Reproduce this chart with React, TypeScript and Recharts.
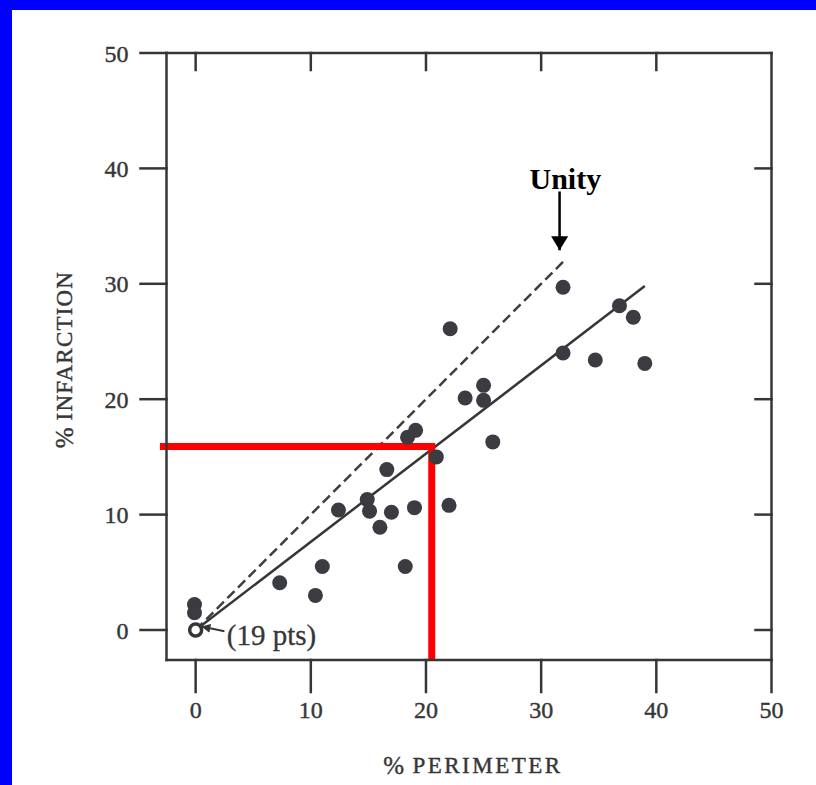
import React from "react";
import {
  ScatterChart,
  Scatter,
  XAxis,
  YAxis,
  ReferenceLine,
  ReferenceDot,
  Label,
} from "recharts";

// axis ticks
const X_TICKS = [0, 10, 20, 30, 40, 50];
const Y_TICKS = [0, 10, 20, 30, 40, 50];
const INNER_TICKS = [0, 10, 20, 30, 40];
const X_DOMAIN: [number, number] = [-2.53, 50];
const Y_DOMAIN: [number, number] = [-2.6, 50];

// one entry per patient: % perimeter vs % infarction
const perimeter = [
  -0.1, -0.1, 7.3, 10.4, 11.0, 12.4, 14.9, 15.1, 16.0, 16.6, 17.0, 18.2, 18.4,
  19.1, 19.0, 20.9, 22.0, 25.8, 31.9, 22.1, 36.8, 38.0, 31.9, 34.7, 39.0, 23.4,
  25.0, 25.0,
];
const infarction = [
  2.2, 1.5, 4.1, 3.0, 5.5, 10.4, 11.3, 10.3, 8.9, 13.9, 10.2, 5.5, 16.7, 17.3,
  10.6, 15.0, 10.8, 16.3, 29.7, 26.1, 28.1, 27.1, 24.0, 23.4, 23.1, 20.1, 21.2,
  19.9,
];
// open circle at the origin stands for 19 patients
const zeroGroupX = [0];
const zeroGroupY = [0];

// unity line and fitted line (end points)
const unityX = [0, 32.2];
const unityY = [0, 32.2];
const fitX = [0, 39.0];
const fitY = [0, 29.8];

// red guide: 20% perimeter -> ~16% infarction
const guideX = 20.5;
const guideY = 15.9;
const guideLeft = -3.1;
const guideBottom = -2.2;

// annotations
const unityLabel = { x: 32.1, y: 38.2, text: "Unity" };
const unityArrow = { x: 31.6, from: 38.0, to: 32.9 };
const ptsLabel = { x: 2.7, y: -1.3, text: "(19 pts)" };
const ptsArrow = { x1: 2.5, y1: -0.1, x2: 0.5, y2: 0.3 };

const INK = "#363636";
const FONT = "'Liberation Serif', 'Times New Roman', serif";

const points = perimeter.map((x, i) => ({ x, y: infarction[i] }));
const zeroPoints = zeroGroupX.map((x, i) => ({ x, y: zeroGroupY[i] }));

function Dot(props: any) {
  return <circle cx={props.cx} cy={props.cy} r={7.5} fill="#3b3b42" />;
}

function OpenDot(props: any) {
  return (
    <circle
      cx={props.cx}
      cy={props.cy}
      r={6}
      fill="#fff"
      stroke={INK}
      strokeWidth={3.5}
    />
  );
}

// inner tick marks only, no labels
const NoLabel = () => null;

function YTitle({ viewBox }: any) {
  const cx = viewBox.x + 24;
  const cy = viewBox.y + viewBox.height / 2 + 3;
  return (
    <text
      x={cx}
      y={cy}
      transform={`rotate(-90 ${cx} ${cy})`}
      textAnchor="middle"
      dominantBaseline="central"
      fill={INK}
      stroke={INK}
      strokeWidth={0.4}
      fontFamily={FONT}
    >
      <tspan fontSize={25}>%</tspan>
      <tspan fontSize={23} letterSpacing={1.2}>
        {" INFARCTION"}
      </tspan>
    </text>
  );
}

function XTitle({ viewBox }: any) {
  const cx = viewBox.x + viewBox.width / 2 + 4;
  const cy = viewBox.y + 105;
  return (
    <text
      x={cx}
      y={cy}
      textAnchor="middle"
      dominantBaseline="central"
      fill={INK}
      stroke={INK}
      strokeWidth={0.4}
      fontFamily={FONT}
    >
      <tspan fontSize={25}>%</tspan>
      <tspan fontSize={23} letterSpacing={2.5}>
        {" PERIMETER"}
      </tspan>
    </text>
  );
}

const tickStyle = {
  fill: INK,
  stroke: INK,
  strokeWidth: 0.4,
  fontSize: 24,
  fontFamily: FONT,
};
const lineStyle = {
  stroke: INK,
  strokeWidth: 2.5,
  strokeLinecap: "square" as const,
};

export default function App() {
  return (
    <div
      style={{
        position: "absolute",
        left: 0,
        top: 0,
        width: 816,
        height: 785,
        background: "#fff",
        overflow: "hidden",
      }}
    >
      <ScatterChart
        width={816}
        height={785}
        margin={{ top: 53, right: 44.5, bottom: 0, left: 40 }}
      >
        <defs>
          <marker
            id="headBig"
            markerUnits="userSpaceOnUse"
            markerWidth={15}
            markerHeight={17}
            refX={14}
            refY={8.5}
            orient="auto"
          >
            <path d="M0,0 L14,8.5 L0,17 Z" fill="#000" />
          </marker>
          <marker
            id="headSmall"
            markerUnits="userSpaceOnUse"
            markerWidth={10}
            markerHeight={9}
            refX={9}
            refY={4.5}
            orient="auto"
          >
            <path d="M0,0 L9,4.5 L0,9 Z" fill={INK} />
          </marker>
        </defs>
        <XAxis
          xAxisId="b"
          type="number"
          dataKey="x"
          domain={X_DOMAIN}
          ticks={X_TICKS}
          interval={0}
          height={125}
          tickSize={32}
          tickMargin={9}
          tick={tickStyle}
          tickLine={lineStyle}
          axisLine={lineStyle}
        >
          <Label content={<XTitle />} />
        </XAxis>
        <XAxis
          xAxisId="t"
          orientation="top"
          type="number"
          dataKey="x"
          domain={X_DOMAIN}
          ticks={INNER_TICKS}
          interval={0}
          mirror
          height={1}
          tickSize={17}
          tick={NoLabel}
          tickLine={lineStyle}
          axisLine={lineStyle}
        />
        <YAxis
          yAxisId="l"
          type="number"
          dataKey="y"
          domain={Y_DOMAIN}
          ticks={Y_TICKS}
          interval={0}
          width={126.5}
          tickSize={26}
          tickMargin={12}
          tick={tickStyle}
          tickLine={lineStyle}
          axisLine={lineStyle}
        >
          <Label content={<YTitle />} />
        </YAxis>
        <YAxis
          yAxisId="r"
          orientation="right"
          type="number"
          dataKey="y"
          domain={Y_DOMAIN}
          ticks={INNER_TICKS}
          interval={0}
          mirror
          width={1}
          tickSize={16}
          tick={NoLabel}
          tickLine={lineStyle}
          axisLine={lineStyle}
        />

        <ReferenceLine
          xAxisId="b"
          yAxisId="l"
          ifOverflow="visible"
          segment={[
            { x: unityX[0], y: unityY[0] },
            { x: unityX[1], y: unityY[1] },
          ]}
          stroke="#3e3e3e"
          strokeWidth={2.5}
          strokeDasharray="10 5"
        />
        <ReferenceLine
          xAxisId="b"
          yAxisId="l"
          ifOverflow="visible"
          segment={[
            { x: fitX[0], y: fitY[0] },
            { x: fitX[1], y: fitY[1] },
          ]}
          stroke={INK}
          strokeWidth={2.5}
        />

        <Scatter
          xAxisId="b"
          yAxisId="l"
          data={points}
          shape={Dot}
          isAnimationActive={false}
        />
        {/* same scales as b/l; bound to t/r so the frame axes get ticks */}
        <Scatter
          xAxisId="t"
          yAxisId="r"
          data={zeroPoints}
          shape={OpenDot}
          isAnimationActive={false}
        />

        <ReferenceLine
          xAxisId="b"
          yAxisId="l"
          ifOverflow="visible"
          segment={[
            { x: guideLeft, y: guideY },
            { x: guideX, y: guideY },
          ]}
          stroke="#ff0000"
          strokeWidth={7}
        />
        <ReferenceLine
          xAxisId="b"
          yAxisId="l"
          ifOverflow="visible"
          segment={[
            { x: guideX, y: guideY },
            { x: guideX, y: guideBottom },
          ]}
          stroke="#ff0000"
          strokeWidth={7}
          strokeLinecap="square"
        />

        <ReferenceLine
          xAxisId="b"
          yAxisId="l"
          ifOverflow="visible"
          segment={[
            { x: unityArrow.x, y: unityArrow.from },
            { x: unityArrow.x, y: unityArrow.to },
          ]}
          stroke="#000"
          strokeWidth={2.5}
          markerEnd="url(#headBig)"
        />
        <ReferenceDot
          xAxisId="b"
          yAxisId="l"
          x={unityLabel.x}
          y={unityLabel.y}
          r={0}
          ifOverflow="visible"
          shape={(p: any) => (
            <text
              x={p.cx}
              y={p.cy}
              textAnchor="middle"
              fontWeight="bold"
              fontSize={30}
              fontFamily={FONT}
              fill="#000"
            >
              {unityLabel.text}
            </text>
          )}
        />
        <ReferenceLine
          xAxisId="b"
          yAxisId="l"
          ifOverflow="visible"
          segment={[
            { x: ptsArrow.x1, y: ptsArrow.y1 },
            { x: ptsArrow.x2, y: ptsArrow.y2 },
          ]}
          stroke={INK}
          strokeWidth={2}
          markerEnd="url(#headSmall)"
        />
        <ReferenceDot
          xAxisId="b"
          yAxisId="l"
          x={ptsLabel.x}
          y={ptsLabel.y}
          r={0}
          ifOverflow="visible"
          shape={(p: any) => (
            <text
              x={p.cx}
              y={p.cy}
              fontSize={29}
              fontFamily={FONT}
              fill={INK}
              stroke={INK}
              strokeWidth={0.3}
            >
              {ptsLabel.text}
            </text>
          )}
        />
      </ScatterChart>
      <div
        style={{
          position: "absolute",
          left: 0,
          top: 0,
          width: 12,
          height: 785,
          background: "#0000ff",
        }}
      />
      <div
        style={{
          position: "absolute",
          left: 0,
          top: 0,
          width: 816,
          height: 10,
          background: "#0000ff",
        }}
      />
    </div>
  );
}
